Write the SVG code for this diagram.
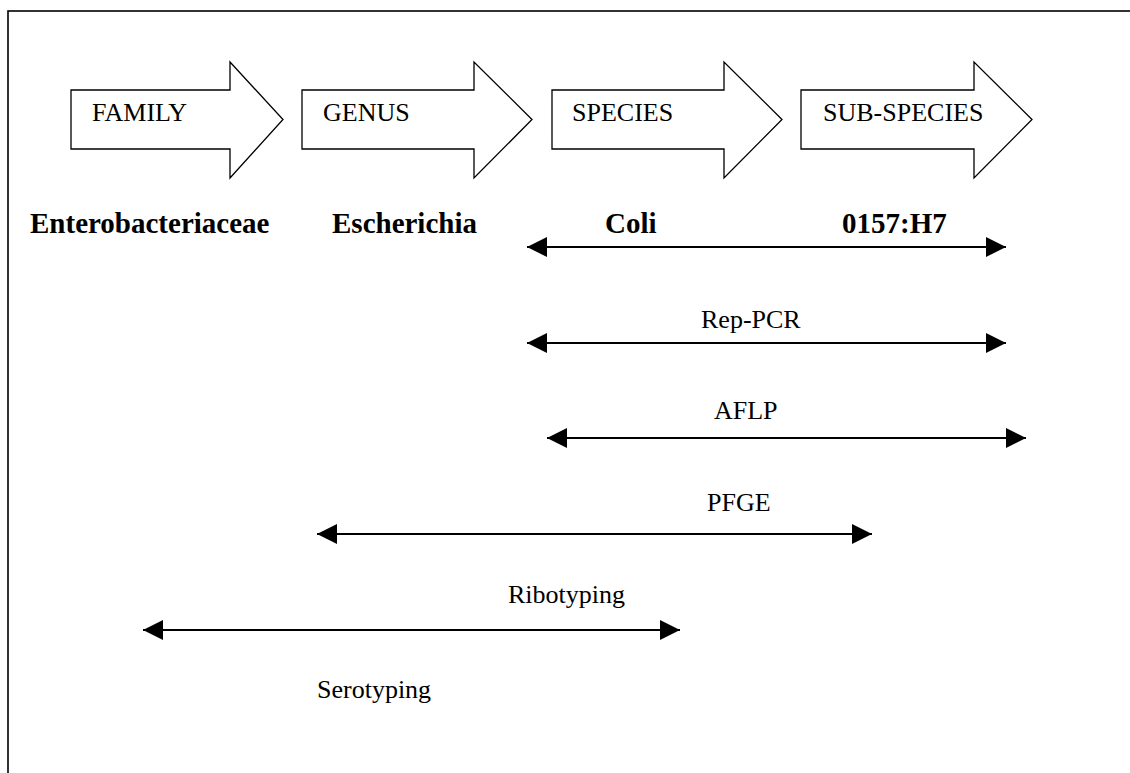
<svg xmlns="http://www.w3.org/2000/svg" width="1130" height="773" viewBox="0 0 1130 773">
<style>
.frame{fill:none;stroke:#000;stroke-width:1.6}
.block{fill:#fff;stroke:#000;stroke-width:1.3;stroke-linejoin:miter}
.lbl{font-family:"Liberation Serif","Times New Roman",serif;font-size:26px;fill:#000}
.name{font-family:"Liberation Serif","Times New Roman",serif;font-size:29px;font-weight:bold;fill:#000}
.conn{stroke:#000;stroke-width:2;fill:none;marker-start:url(#ah);marker-end:url(#ah)}
</style>
<defs>
<marker id="ah" viewBox="0 0 20 20" markerWidth="20" markerHeight="20" markerUnits="userSpaceOnUse" refX="20" refY="10" orient="auto-start-reverse">
<path d="M0,0 L20,10 L0,20 Z" fill="#000"/>
</marker>
</defs>
<rect width="1130" height="773" fill="#fff"/>
<rect class="frame" x="8" y="11" width="1150" height="800"/>
<g id="family">
<path class="block" d="M71,90 L230,90 L230,62 L283,119.5 L230,178 L230,149 L71,149 Z"/>
<text class="lbl" x="92" y="121">FAMILY</text>
</g>
<g id="genus">
<path class="block" d="M302,90 L474,90 L474,62 L532,119.5 L474,178 L474,149 L302,149 Z"/>
<text class="lbl" x="323" y="121">GENUS</text>
</g>
<g id="species">
<path class="block" d="M552,90 L724,90 L724,62 L782,119.5 L724,178 L724,149 L552,149 Z"/>
<text class="lbl" x="572" y="121">SPECIES</text>
</g>
<g id="subspecies">
<path class="block" d="M801,90 L974,90 L974,62 L1032,119.5 L974,178 L974,149 L801,149 Z"/>
<text class="lbl" x="823" y="121">SUB-SPECIES</text>
</g>
<g id="names">
<text class="name" x="30" y="233">Enterobacteriaceae</text>
<text class="name" x="332" y="233">Escherichia</text>
<text class="name" x="605" y="233">Coli</text>
<text class="name" x="842" y="233">0157:H7</text>
</g>
<g id="methods">
<text class="lbl" x="701" y="328">Rep-PCR</text>
<text class="lbl" x="714" y="419">AFLP</text>
<text class="lbl" x="707" y="511">PFGE</text>
<text class="lbl" x="508" y="603">Ribotyping</text>
<text class="lbl" x="317" y="698">Serotyping</text>
</g>
<g id="connectors">
<line class="conn" x1="527" y1="247" x2="1006" y2="247"/>
<line class="conn" x1="527" y1="343" x2="1006" y2="343"/>
<line class="conn" x1="547" y1="438" x2="1026" y2="438"/>
<line class="conn" x1="317" y1="534" x2="872" y2="534"/>
<line class="conn" x1="143" y1="630" x2="680" y2="630"/>
</g>
</svg>
